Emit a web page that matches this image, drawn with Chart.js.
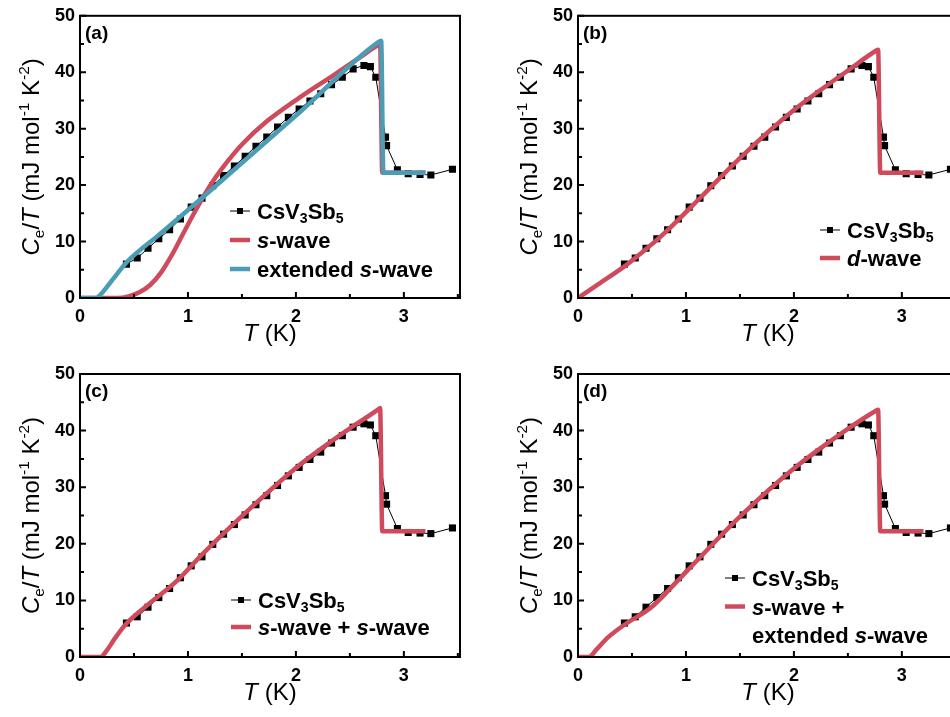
<!DOCTYPE html>
<html lang="en">
<head>
    <meta charset="UTF-8">
    <title>CsV3Sb5 specific heat fits</title>
    <style>
        html, body { margin: 0; padding: 0; background: #fff; overflow: hidden; }
        #wrap { position: relative; width: 950px; height: 717px; overflow: hidden; }
        .box { position: absolute; }
    </style>
</head>
<body>
    <div id="wrap">
        <div class="box" style="left:0;top:0;"><canvas id="cA" width="475" height="358"></canvas></div>
        <div class="box" style="left:475px;top:0;"><canvas id="cB" width="500" height="358"></canvas></div>
        <div class="box" style="left:0;top:358px;"><canvas id="cC" width="475" height="359"></canvas></div>
        <div class="box" style="left:475px;top:358px;"><canvas id="cD" width="500" height="359"></canvas></div>
    </div>

    <script src="https://cdn.jsdelivr.net/npm/chart.js"></script>
    <script>
        const FONT = "'Liberation Sans', Arial, sans-serif";
        const RED = "#cf4b5b";
        const BLUE = "#4a9db5";

        // measured CsV3Sb5 points (same in every panel)
        const v_dataT = [0.43, 0.53, 0.63, 0.73, 0.83, 0.93, 1.03, 1.13, 1.23, 1.33, 1.43, 1.53, 1.63, 1.73, 1.83, 1.93,
            2.03, 2.13, 2.23, 2.33, 2.43, 2.53, 2.63, 2.69, 2.74, 2.83, 2.84, 2.94, 3.04, 3.15, 3.25, 3.45];
        const v_dataC = [6.0, 7.1, 8.8, 10.5, 12.1, 14.0, 16.1, 17.7, 19.9, 21.7, 23.4, 25.1, 26.9, 28.5, 30.3, 32.0,
            33.5, 34.9, 36.2, 37.8, 39.1, 40.6, 41.2, 41.0, 39.1, 28.5, 27.0, 22.7, 22.0, 21.9, 21.8, 22.8];

        // (a) s-wave
        const v_swaveT = [0, 0.35, 0.45, 0.55, 0.65, 0.75, 0.85, 0.95, 1.05, 1.15, 1.25, 1.35, 1.5, 1.73, 2.04, 2.35, 2.59, 2.76, 2.78, 2.8, 3.2];
        const v_swaveC = [0, 0, 0.3, 1.0, 2.3, 4.5, 7.6, 11.2, 14.8, 18.2, 21.2, 23.8, 27.2, 31.3, 35.6, 39.5, 42.6, 44.8, 45.0, 22.2, 22.2];
        // (a) extended s-wave
        const v_extT = [0, 0.15, 0.2, 0.3, 0.43, 0.55, 0.7, 1.14, 2.04, 2.76, 2.79, 2.81, 3.2];
        const v_extC = [0, 0, 0.8, 3.2, 6.3, 8.4, 10.7, 17.9, 33.0, 45.3, 45.6, 22.2, 22.2];
        // (b) d-wave
        const v_dwaveT = [0, 0.2, 0.43, 0.6, 0.75, 0.9, 1.14, 1.5, 2.0, 2.5, 2.76, 2.78, 2.8, 3.2];
        const v_dwaveC = [0, 2.6, 5.6, 8.2, 10.6, 13.3, 17.9, 24.8, 33.3, 40.3, 43.8, 44.0, 22.2, 22.2];
        // (c) s-wave + s-wave
        const v_ssT = [0, 0.19, 0.25, 0.32, 0.42, 0.6, 0.9, 1.13, 1.5, 2.0, 2.5, 2.76, 2.78, 2.8, 3.2];
        const v_ssC = [0, 0, 1.2, 3.2, 5.7, 8.8, 13.5, 18.1, 24.9, 33.4, 40.4, 43.7, 44.0, 22.2, 22.2];
        // (d) s-wave + extended s-wave
        const v_seT = [0, 0.1, 0.17, 0.28, 0.43, 0.68, 0.9, 1.14, 1.5, 2.0, 2.5, 2.76, 2.78, 2.8, 3.2];
        const v_seC = [0, 0, 1.3, 3.5, 5.7, 8.8, 13.0, 17.8, 24.8, 33.3, 40.3, 43.5, 43.7, 22.2, 22.2];

        const v_xTicks = [0, 1, 2, 3];
        const v_yTicks = [0, 10, 20, 30, 40, 50];

        function toXY(xs, ys) {
            return xs.map((x, i) => ({ x: x, y: ys[i] }));
        }

        function fitSet(label, xs, ys, color, order) {
            return {
                label: label, data: toXY(xs, ys), borderColor: color, backgroundColor: color,
                borderWidth: 4.5, pointRadius: 0, cubicInterpolationMode: "monotone", order: order
            };
        }

        function dataSet() {
            return {
                label: "CsV3Sb5", data: toXY(v_dataT, v_dataC), borderColor: "#000", backgroundColor: "#000",
                borderWidth: 1, pointStyle: "rect", pointRadius: 5, pointBorderWidth: 0, order: 5
            };
        }

        // draws text made of parts (italic / sub / sup), returns width
        function drawRich(ctx, x, y, parts, size, weight, measureOnly) {
            let cx = x;
            for (const p of parts) {
                const fs = (p.sub || p.sup) ? size * 0.64 : size;
                const dy = p.sub ? size * 0.2 : (p.sup ? -size * 0.42 : 0);
                ctx.font = (p.it ? "italic " : "") + weight + " " + fs + "px " + FONT;
                if (!measureOnly) ctx.fillText(p.t, cx, y + dy);
                cx += ctx.measureText(p.t).width;
            }
            return cx - x;
        }

        const v_yTitle = [{ t: "C", it: true }, { t: "e", sub: true }, { t: "/" }, { t: "T", it: true },
            { t: " (mJ mol" }, { t: "-1", sup: true }, { t: " K" }, { t: "-2", sup: true }, { t: ")" }];
        const v_xTitle = [{ t: "T", it: true }, { t: " (K)" }];
        const v_sample = [{ t: "CsV" }, { t: "3", sub: true }, { t: "Sb" }, { t: "5", sub: true }];

        const v_panelPlugin = {
            id: "panel",
            afterDraw(chart, args, opts) {
                const ctx = chart.ctx;
                const a = chart.chartArea;
                const sx = chart.scales.x, sy = chart.scales.y;
                ctx.save();
                ctx.strokeStyle = "#000";
                ctx.fillStyle = "#000";
                ctx.lineWidth = 2;
                ctx.strokeRect(a.left, a.top, a.right - a.left, a.bottom - a.top);

                // inward tick marks
                ctx.beginPath();
                sx.ticks.forEach(t => {
                    const px = sx.getPixelForValue(t.value);
                    const len = Math.abs(t.value - Math.round(t.value)) < 1e-6 ? 6 : 4;
                    ctx.moveTo(px, a.bottom); ctx.lineTo(px, a.bottom - len);
                });
                sy.ticks.forEach(t => {
                    const py = sy.getPixelForValue(t.value);
                    const len = Math.round(t.value) % 10 === 0 ? 6 : 4;
                    ctx.moveTo(a.left, py); ctx.lineTo(a.left + len, py);
                });
                ctx.stroke();

                // axis titles
                ctx.textBaseline = "alphabetic";
                ctx.textAlign = "left";
                const xw = drawRich(ctx, 0, 0, v_xTitle, 24, "normal", true);
                drawRich(ctx, (a.left + a.right) / 2 - xw / 2, a.bottom + 43, v_xTitle, 24, "normal");
                ctx.save();
                ctx.translate(a.left - 41, (a.top + a.bottom) / 2);
                ctx.rotate(-Math.PI / 2);
                const yw = drawRich(ctx, 0, 0, v_yTitle, 24, "normal", true);
                drawRich(ctx, -yw / 2, 0, v_yTitle, 24, "normal");
                ctx.restore();

                // panel letter
                ctx.font = "bold 19px " + FONT;
                ctx.fillText(opts.label, a.left + 5, a.top + 23);

                // legend
                const lg = opts.legend;
                lg.rows.forEach((row, i) => {
                    const y = lg.y + i * lg.dy;
                    if (row.kind === "data") {
                        ctx.lineWidth = 1;
                        ctx.strokeStyle = "#000";
                        ctx.beginPath();
                        ctx.moveTo(lg.x, y); ctx.lineTo(lg.x + 20, y);
                        ctx.stroke();
                        ctx.fillRect(lg.x + 7, y - 3, 6, 6);
                    } else if (row.kind === "line") {
                        ctx.lineWidth = 4.5;
                        ctx.strokeStyle = row.color;
                        ctx.beginPath();
                        ctx.moveTo(lg.x, y); ctx.lineTo(lg.x + 20, y);
                        ctx.stroke();
                    }
                    ctx.fillStyle = "#000";
                    drawRich(ctx, lg.x + 27, y + 8, row.parts, 22, "bold");
                });
                ctx.restore();
            }
        };

        function makeChart(id, yWidth, top, right, datasets, label, legend) {
            new Chart(document.getElementById(id), {
                type: "line",
                data: { datasets: datasets },
                options: {
                    responsive: false,
                    animation: false,
                    events: [],
                    layout: { padding: { left: 0, top: top, right: right, bottom: 0 } },
                    plugins: {
                        legend: { display: false },
                        tooltip: { enabled: false },
                        panel: { label: label, legend: legend }
                    },
                    scales: {
                        x: {
                            type: "linear", min: 0, max: 3.52,
                            grid: { display: false, drawTicks: false },
                            border: { display: false },
                            ticks: {
                                stepSize: 0.5, includeBounds: false, autoSkip: false, maxRotation: 0, padding: 8,
                                color: "#000", font: { family: FONT, size: 18, weight: "bold" },
                                callback: v => v_xTicks.includes(v) ? String(v) : ""
                            },
                            afterFit: s => { s.height = 60; }
                        },
                        y: {
                            type: "linear", min: 0, max: 50,
                            grid: { display: false, drawTicks: false },
                            border: { display: false },
                            ticks: {
                                stepSize: 5, includeBounds: false, padding: 5,
                                color: "#000", font: { family: FONT, size: 18, weight: "bold" },
                                callback: v => v_yTicks.includes(v) ? String(v) : ""
                            },
                            afterFit: s => { s.width = yWidth; }
                        }
                    }
                },
                plugins: [v_panelPlugin]
            });
        }

        makeChart("cA", 80, 15, 15,
            [fitSet("extended s-wave", v_extT, v_extC, BLUE, 0), fitSet("s-wave", v_swaveT, v_swaveC, RED, 1), dataSet()],
            "(a)",
            { x: 230, y: 211, dy: 29, rows: [
                { kind: "data", parts: v_sample },
                { kind: "line", color: RED, parts: [{ t: "s", it: true }, { t: "-wave" }] },
                { kind: "line", color: BLUE, parts: [{ t: "extended " }, { t: "s", it: true }, { t: "-wave" }] }
            ] });

        makeChart("cB", 103, 15, 17,
            [fitSet("d-wave", v_dwaveT, v_dwaveC, RED, 0), dataSet()],
            "(b)",
            { x: 345, y: 230, dy: 28, rows: [
                { kind: "data", parts: v_sample },
                { kind: "line", color: RED, parts: [{ t: "d", it: true }, { t: "-wave" }] }
            ] });

        makeChart("cC", 80, 16, 15,
            [fitSet("s-wave + s-wave", v_ssT, v_ssC, RED, 0), dataSet()],
            "(c)",
            { x: 231, y: 242, dy: 27, rows: [
                { kind: "data", parts: v_sample },
                { kind: "line", color: RED, parts: [{ t: "s", it: true }, { t: "-wave + " }, { t: "s", it: true }, { t: "-wave" }] }
            ] });

        makeChart("cD", 103, 16, 17,
            [fitSet("s-wave + extended s-wave", v_seT, v_seC, RED, 0), dataSet()],
            "(d)",
            { x: 250, y: 220, dy: 28.5, rows: [
                { kind: "data", parts: v_sample },
                { kind: "line", color: RED, parts: [{ t: "s", it: true }, { t: "-wave +" }] },
                { kind: "none", parts: [{ t: "extended " }, { t: "s", it: true }, { t: "-wave" }] }
            ] });
    </script>
</body>
</html>
